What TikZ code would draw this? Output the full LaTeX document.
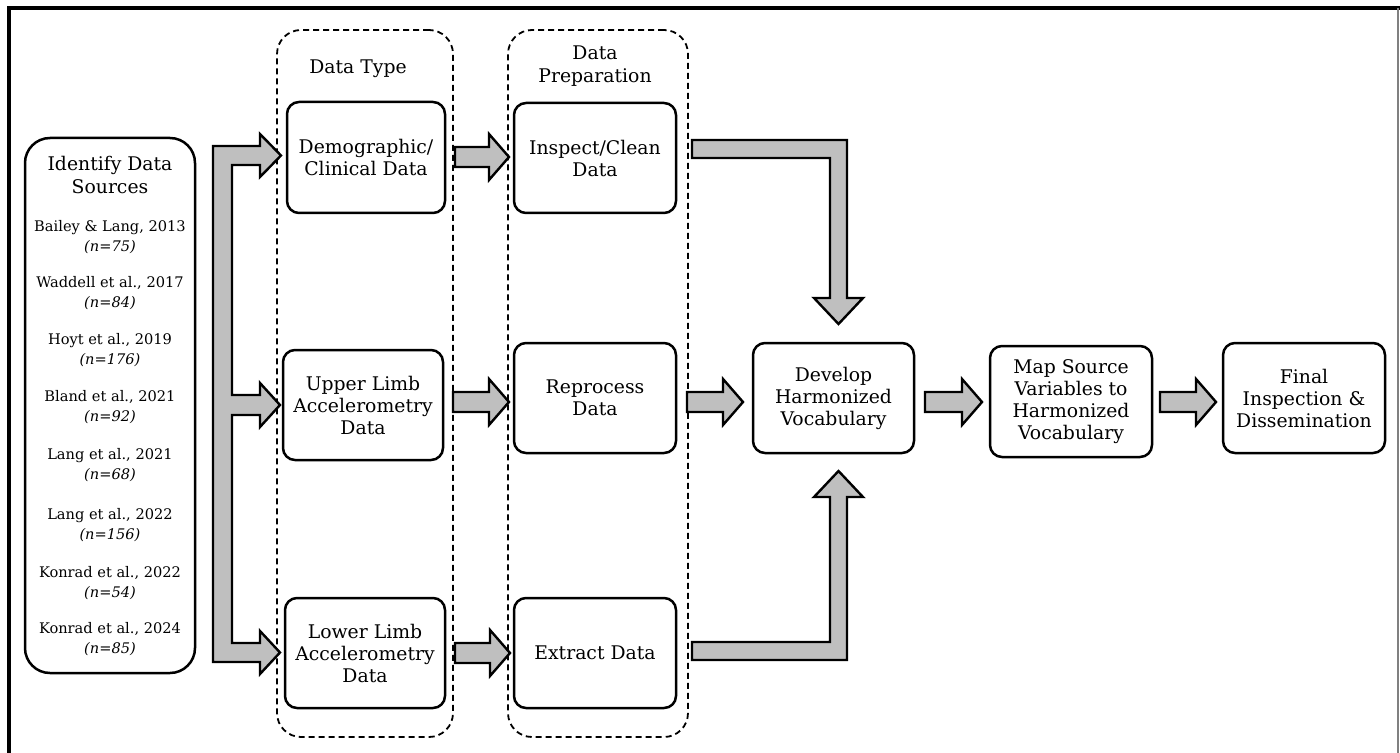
\documentclass[tikz,border=0pt]{standalone}
\usepackage{fontspec}
\setmainfont{DejaVu Serif}
\begin{document}
\begin{tikzpicture}[x=0.5pt,y=-0.5pt,
  box/.style={draw, line width=1.25pt, rounded corners=6pt, align=center, inner sep=0pt,
     font=\fontsize{9.4}{11}\selectfont},
  group/.style={draw, dashed, dash pattern=on 3pt off 2pt, line width=0.9pt, rounded corners=12pt, inner sep=0pt},
  lbl/.style={align=center, inner sep=0pt, font=\fontsize{9.4}{11.5}\selectfont},
  src/.style={align=center, inner sep=0pt, font=\fontsize{7.3}{9.6}\selectfont},
  barrow/.style={draw, line width=1.2pt, fill=black!25, line join=miter}
]
\useasboundingbox (0,0) rectangle (1400,753);
% frame
\draw[line width=1.75pt] (9,753) -- (9,8) -- (1400,8);
\draw[black!50, line width=1pt] (1398,8) -- (1398,753);

% groups
\node[group, minimum width=88pt, minimum height=353.5pt] (gtype) at (365,383.5) {};
\node[group, minimum width=90pt, minimum height=353.5pt] (gprep) at (598,383.5) {};
\node[lbl] (ltype) at (358,69) {Data Type};
\node[lbl] (lprep) at (595,66) {Data\\Preparation};

% source box
\node[box, rounded corners=12.5pt, minimum width=85pt, minimum height=267.5pt] (srcbox) at (110,405.5) {};
\node[lbl] (stitle) at (110,175) {Identify Data\\Sources};
\node[src] (s1) at (110,237) {Bailey \& Lang, 2013\\\textit{(n=75)}};
\node[src] (s2) at (110,293) {Waddell et al., 2017\\\textit{(n=84)}};
\node[src] (s3) at (110,350) {Hoyt et al., 2019\\\textit{(n=176)}};
\node[src] (s4) at (110,407) {Bland et al., 2021\\\textit{(n=92)}};
\node[src] (s5) at (110,465) {Lang et al., 2021\\\textit{(n=68)}};
\node[src] (s6) at (110,525) {Lang et al., 2022\\\textit{(n=156)}};
\node[src] (s7) at (110,583) {Konrad et al., 2022\\\textit{(n=54)}};
\node[src] (s8) at (110,639) {Konrad et al., 2024\\\textit{(n=85)}};

% process boxes
\node[box, minimum width=79pt, minimum height=55.5pt] (demo) at (366,157.5) {Demographic/\\Clinical Data};
\node[box, minimum width=80pt, minimum height=55pt] (upper) at (363,405) {Upper Limb\\Accelerometry\\Data};
\node[box, minimum width=80pt, minimum height=55pt] (lower) at (365,653) {Lower Limb\\Accelerometry\\Data};
\node[box, minimum width=81pt, minimum height=55pt] (insp) at (595,158) {Inspect/Clean\\Data};
\node[box, minimum width=81pt, minimum height=55pt] (repr) at (595,398) {Reprocess\\Data};
\node[box, minimum width=81pt, minimum height=55pt] (extr) at (595,653) {Extract Data};
\node[box, minimum width=80.5pt, minimum height=55pt] (dev) at (833.5,398) {Develop\\Harmonized\\Vocabulary};
\node[box, minimum width=81pt, minimum height=55.5pt] (map) at (1071,401.5) {Map Source\\Variables to\\Harmonized\\Vocabulary};
\node[box, minimum width=81pt, minimum height=55pt] (fin) at (1304,398) {Final\\Inspection \&\\Dissemination};

% branching arrow from sources
\draw[barrow] (213,146) -- (260,146) -- (260,134) -- (281,155.5) -- (260,177) -- (260,165)
  -- (232,165) -- (232,395) -- (260,395) -- (260,383) -- (280,405) -- (260,427) -- (260,415)
  -- (232,415) -- (232,643) -- (260,643) -- (260,631) -- (280,652.5) -- (260,674) -- (260,662)
  -- (213,662) -- cycle;

% straight block arrows
\newcommand\harrow[3]{%
  \draw[barrow] (#1,#3-10) -- (#2-20,#3-10) -- (#2-20,#3-23) -- (#2,#3)
    -- (#2-20,#3+23) -- (#2-20,#3+10) -- (#1,#3+10) -- cycle;}
\harrow{455}{509}{157}
\harrow{453}{509}{402}
\harrow{455}{510}{653}
\harrow{687}{743}{402}
\harrow{925}{982}{402}
\harrow{1160}{1216}{402}

% elbow arrows into develop
\draw[barrow] (692,140) -- (847,140) -- (847,298) -- (863,298) -- (838.5,324)
  -- (814,298) -- (830,298) -- (830,158) -- (692,158) -- cycle;
\draw[barrow] (692,660) -- (847,660) -- (847,497) -- (863,497) -- (838.5,471)
  -- (814,497) -- (830,497) -- (830,642) -- (692,642) -- cycle;
\end{tikzpicture}
\end{document}
